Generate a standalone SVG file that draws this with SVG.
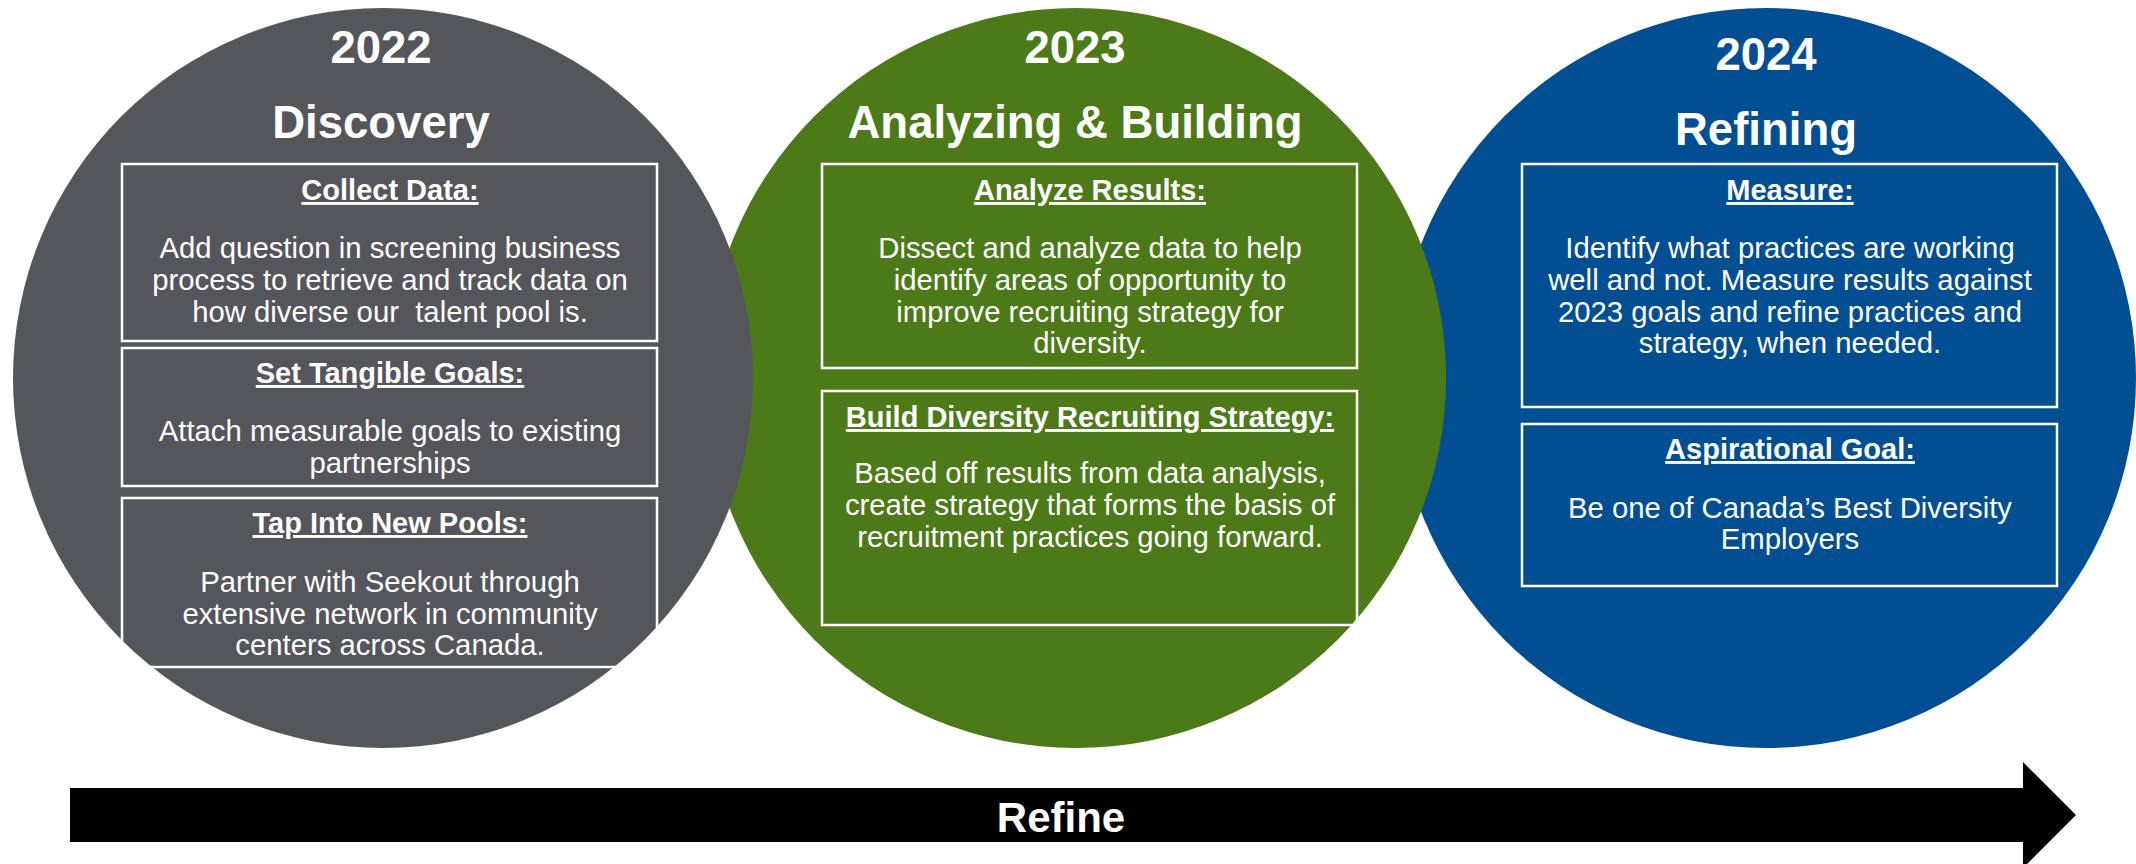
<svg xmlns="http://www.w3.org/2000/svg" width="2136" height="864" viewBox="0 0 2136 864">
<style>
.title{font-family:"Liberation Sans",Arial,sans-serif;font-weight:bold;font-size:45.5px;fill:#fff;text-anchor:middle}
.hd{font-family:"Liberation Sans",Arial,sans-serif;font-weight:bold;font-size:29px;fill:#fff;text-anchor:middle;text-decoration:underline}
.bd{font-family:"Liberation Sans",Arial,sans-serif;font-size:29.3px;fill:#fff;text-anchor:middle}
.box{fill:none;stroke:#ffffff;stroke-width:2.5}
.refine{font-family:"Liberation Sans",Arial,sans-serif;font-weight:bold;font-size:42px;fill:#fff;text-anchor:middle}
</style>
<rect width="2136" height="864" fill="#ffffff"/>
<g id="node-2024">
<circle cx="1766" cy="378" r="370" fill="#024e93"/>
<text class="title" x="1766" y="70">2024</text>
<text class="title" x="1766" y="145">Refining</text>
<rect class="box" x="1522" y="164" width="535" height="243"/>
<text class="hd" x="1790" y="200">Measure:</text>
<text class="bd" x="1790" y="258">Identify what practices are working</text>
<text class="bd" x="1790" y="290">well and not. Measure results against</text>
<text class="bd" x="1790" y="322">2023 goals and refine practices and</text>
<text class="bd" x="1790" y="353">strategy, when needed.</text>
<rect class="box" x="1522" y="424" width="535" height="162"/>
<text class="hd" x="1790" y="459">Aspirational Goal:</text>
<text class="bd" x="1790" y="518">Be one of Canada’s Best Diversity</text>
<text class="bd" x="1790" y="549">Employers</text>
</g>
<g id="node-2023">
<circle cx="1076" cy="378" r="370" fill="#4d7a18"/>
<text class="title" x="1075" y="63">2023</text>
<text class="title" x="1075" y="138">Analyzing &amp; Building</text>
<rect class="box" x="822" y="164" width="535" height="204"/>
<text class="hd" x="1090" y="200">Analyze Results:</text>
<text class="bd" x="1090" y="258">Dissect and analyze data to help</text>
<text class="bd" x="1090" y="290">identify areas of opportunity to</text>
<text class="bd" x="1090" y="322">improve recruiting strategy for</text>
<text class="bd" x="1090" y="353">diversity.</text>
<rect class="box" x="822" y="391" width="535" height="234"/>
<text class="hd" x="1090" y="427">Build Diversity Recruiting Strategy:</text>
<text class="bd" x="1090" y="483">Based off results from data analysis,</text>
<text class="bd" x="1090" y="515">create strategy that forms the basis of</text>
<text class="bd" x="1090" y="547">recruitment practices going forward.</text>
</g>
<g id="node-2022">
<circle cx="383" cy="378" r="370" fill="#55565b"/>
<text class="title" x="381" y="63">2022</text>
<text class="title" x="381" y="138">Discovery</text>
<rect class="box" x="122" y="164" width="535" height="177"/>
<text class="hd" x="390" y="200">Collect Data:</text>
<text class="bd" x="390" y="258">Add question in screening business</text>
<text class="bd" x="390" y="290">process to retrieve and track data on</text>
<text class="bd" x="390" y="322" xml:space="preserve">how diverse our  talent pool is.</text>
<rect class="box" x="122" y="348" width="535" height="138"/>
<text class="hd" x="390" y="383">Set Tangible Goals:</text>
<text class="bd" x="390" y="441">Attach measurable goals to existing</text>
<text class="bd" x="390" y="473">partnerships</text>
<rect class="box" x="122" y="498" width="535" height="169"/>
<text class="hd" x="390" y="533">Tap Into New Pools:</text>
<text class="bd" x="390" y="592">Partner with Seekout through</text>
<text class="bd" x="390" y="624">extensive network in community</text>
<text class="bd" x="390" y="655">centers across Canada.</text>
</g>
<g id="connectors">
<g id="refine-arrow">
<path d="M70,788 L2023,788 L2023,762 L2076,815 L2023,868 L2023,842 L70,842 Z" fill="#000000"/>
<text class="refine" x="1061" y="832">Refine</text>
</g>
</g>
</svg>
